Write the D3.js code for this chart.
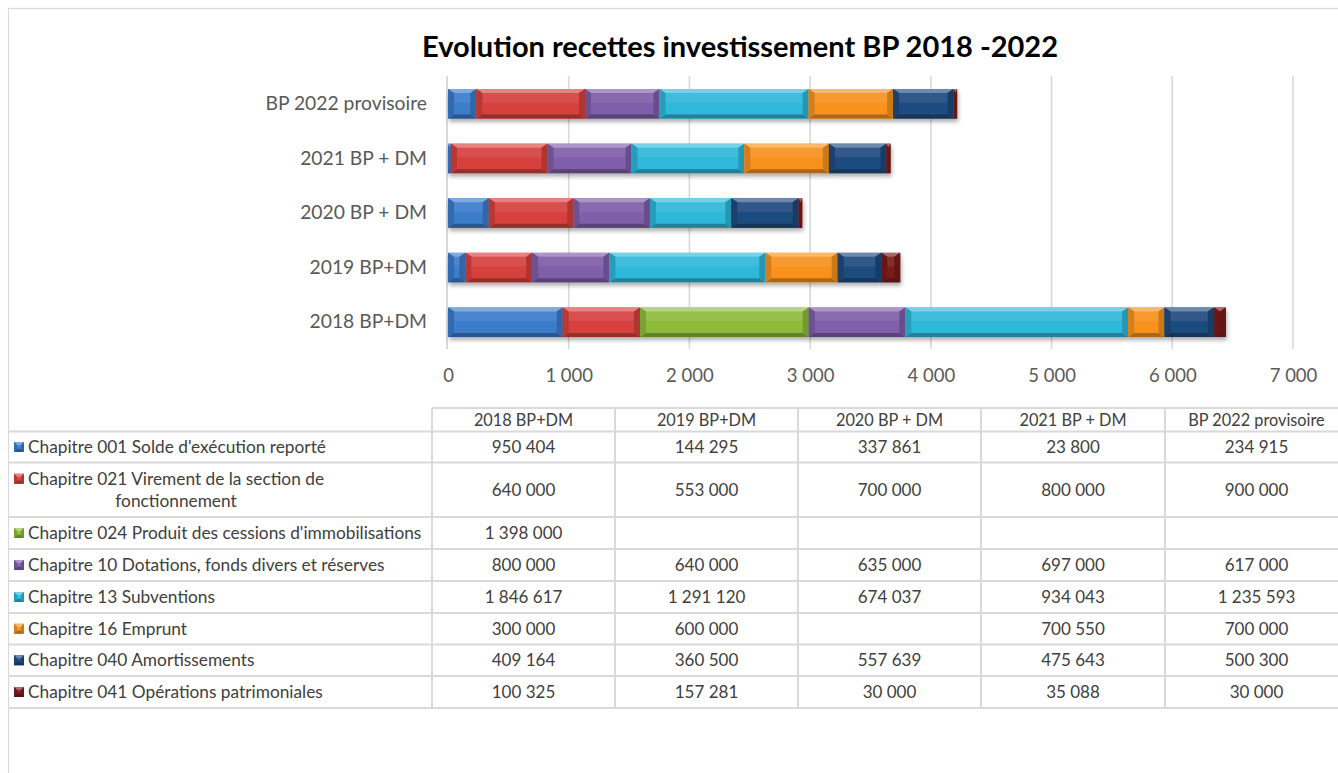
<!DOCTYPE html>
<html>
<head>
<meta charset="utf-8">
<script src="https://cdn.jsdelivr.net/npm/d3@7"></script>
<style>
  html, body { margin: 0; padding: 0; background: #fff; }
  svg { display: block; font-family: Lato, "Open Sans", sans-serif; }
</style>
</head>
<body>
<svg id="chart" width="1338" height="773"></svg>
<script>
// Budget categories (one bar each, bottom to top)
const categories = ["2018 BP+DM", "2019 BP+DM", "2020 BP + DM", "2021 BP + DM", "BP 2022 provisoire"];

// Revenue chapters, in stacking order
const chapters = [
  "Chapitre 001 Solde d'exécution reporté",
  "Chapitre 021 Virement de la section de\nfonctionnement",
  "Chapitre 024 Produit des cessions d'immobilisations",
  "Chapitre 10 Dotations, fonds divers et réserves",
  "Chapitre 13 Subventions",
  "Chapitre 16 Emprunt",
  "Chapitre 040 Amortissements",
  "Chapitre 041 Opérations patrimoniales"
];

// Amounts in euros, per chapter, per category (null = no amount)
const ch001 = [950404, 144295, 337861, 23800, 234915];
const ch021 = [640000, 553000, 700000, 800000, 900000];
const ch024 = [1398000, null, null, null, null];
const ch10  = [800000, 640000, 635000, 697000, 617000];
const ch13  = [1846617, 1291120, 674037, 934043, 1235593];
const ch16  = [300000, 600000, null, 700550, 700000];
const ch040 = [409164, 360500, 557639, 475643, 500300];
const ch041 = [100325, 157281, 30000, 35088, 30000];
const seriesValues = [ch001, ch021, ch024, ch10, ch13, ch16, ch040, ch041];

// Axis ticks, in thousands of euros
const axisTicks = [0, 1000, 2000, 3000, 4000, 5000, 6000, 7000];

const colors = ["#3b7ccb", "#d6403e", "#8fbb3c", "#7f5ea9", "#2fb8da", "#f8921f", "#1f4b7f", "#7a1d1d"];

const title = "Evolution recettes investissement BP 2018 -2022";

const fr = d3.formatLocale({ decimal: ",", thousands: " ", grouping: [3], currency: ["", " €"] });
const fmt = fr.format(",.0f");

const svg = d3.select("#chart");
const defs = svg.append("defs");

defs.append("filter").attr("id", "barShadow")
  .attr("x", "-5%").attr("y", "-30%").attr("width", "110%").attr("height", "180%")
  .append("feDropShadow")
  .attr("dx", 1).attr("dy", 3).attr("stdDeviation", 2.2)
  .attr("flood-color", "#000").attr("flood-opacity", 0.33);

// Outer chart frame
svg.append("rect")
  .attr("x", 8.5).attr("y", 8.5).attr("width", 1340).attr("height", 780)
  .attr("fill", "#fff").attr("stroke", "#d9d9d9").attr("stroke-width", 1.2);

// Title
svg.append("text")
  .attr("x", 740).attr("y", 57)
  .attr("text-anchor", "middle")
  .attr("font-size", 29).attr("font-weight", 700)
  .attr("fill", "#000")
  .text(title);

// Scales
const x = d3.scaleLinear().domain([0, 7000000]).range([448, 1293]);
const y = d3.scaleBand().domain(categories.slice().reverse())
  .range([76.5, 349.5]).paddingInner(0.46).paddingOuter(0.23);

// Gridlines
const grid = svg.append("g");
grid.selectAll("line").data(axisTicks.slice(1)).join("line")
  .attr("x1", d => x(d * 1000)).attr("x2", d => x(d * 1000))
  .attr("y1", 76).attr("y2", 349)
  .attr("stroke", "#d9d9d9").attr("stroke-width", 1.6);

// Category axis line
svg.append("line")
  .attr("x1", x(0) - 1).attr("x2", x(0) - 1).attr("y1", 76).attr("y2", 349)
  .attr("stroke", "#d0d0d0").attr("stroke-width", 1.6);

// Value axis labels
const xAxis = d3.axisBottom(x)
  .tickValues(axisTicks.map(d => d * 1000))
  .tickFormat(d => fmt(d / 1000))
  .tickSize(0).tickPadding(0);
const xg = svg.append("g").attr("transform", "translate(0,369)").call(xAxis);
xg.select(".domain").remove();
xg.selectAll("text").attr("font-size", 18.5).attr("fill", "#595959")
  .attr("font-family", "Lato, 'Open Sans', sans-serif").attr("dy", "0.71em");

// Category labels
const yAxis = d3.axisLeft(y).tickSize(0).tickPadding(0);
const yg = svg.append("g").attr("transform", "translate(427,0)").call(yAxis);
yg.select(".domain").remove();
yg.selectAll("text").attr("font-size", 19.3).attr("fill", "#595959")
  .attr("font-family", "Lato, 'Open Sans', sans-serif");

// Colour helpers for the bevel faces
const mix = (c, target, t) => d3.interpolateRgb(c, target)(t);

function bevel(g, x0, x1, y0, y1, color, dx, dy) {
  const w = x1 - x0, h = y1 - y0;
  const bx = Math.min(dx, w / 2), by = Math.min(dy, h / 2);
  const pts = a => a.map(p => p.join(",")).join(" ");
  g.append("rect").attr("x", x0).attr("y", y0).attr("width", w).attr("height", h)
    .attr("fill", color);
  // top face
  g.append("polygon").attr("points", pts([[x0, y0], [x1, y0], [x1 - bx, y0 + by], [x0 + bx, y0 + by]]))
    .attr("fill", mix(color, "#fff", 0.35));
  // bottom face
  g.append("polygon").attr("points", pts([[x0, y1], [x1, y1], [x1 - bx, y1 - by], [x0 + bx, y1 - by]]))
    .attr("fill", mix(color, "#000", 0.3));
  // left face
  g.append("polygon").attr("points", pts([[x0, y0], [x0 + bx, y0 + by], [x0 + bx, y1 - by], [x0, y1]]))
    .attr("fill", mix(color, "#000", 0.14));
  // right face
  g.append("polygon").attr("points", pts([[x1, y0], [x1 - bx, y0 + by], [x1 - bx, y1 - by], [x1, y1]]))
    .attr("fill", mix(color, "#000", 0.18));
  // soft highlight on the flat face
  if (w > 2 * bx && h > 2 * by) {
    g.append("rect").attr("x", x0 + bx).attr("y", y0 + by)
      .attr("width", w - 2 * bx).attr("height", (h - 2 * by) * 0.45)
      .attr("fill", "#fff").attr("opacity", 0.08);
  }
}

// Stacked series
const rows = categories.map((c, i) => {
  const r = { category: c };
  chapters.forEach((ch, j) => { r[j] = seriesValues[j][i] || 0; });
  return r;
});
const stack = d3.stack().keys(chapters.map((_, j) => j))(rows);

const bars = svg.append("g");
categories.forEach((c, i) => {
  const bg = bars.append("g").attr("filter", "url(#barShadow)");
  stack.forEach((layer, j) => {
    const seg = layer[i];
    if (seg[1] - seg[0] <= 0) return;
    bevel(bg, x(seg[0]), x(seg[1]), y(c), y(c) + y.bandwidth(), colors[j], 6, 4);
  });
});

// Data table
const colX = [8, 432, 615, 798, 981, 1165, 1348];
const rowY = [408, 431.5, 462.5, 517, 549, 581, 613, 644.5, 676, 708];
const lineColor = "#d9d9d9";
const textColor = "#404040";
const table = svg.append("g");

// horizontal rules
rowY.forEach((yy, k) => {
  table.append("line")
    .attr("x1", k === 0 ? colX[1] : colX[0]).attr("x2", 1338)
    .attr("y1", yy).attr("y2", yy)
    .attr("stroke", lineColor).attr("stroke-width", 2);
});
// vertical rules
colX.slice(1, 6).forEach(xx => {
  table.append("line")
    .attr("x1", xx).attr("x2", xx).attr("y1", rowY[0]).attr("y2", rowY[rowY.length - 1])
    .attr("stroke", lineColor).attr("stroke-width", 2);
});

// header
categories.forEach((c, i) => {
  table.append("text")
    .attr("x", (colX[i + 1] + colX[i + 2]) / 2).attr("y", (rowY[0] + rowY[1]) / 2 + 5.8)
    .attr("text-anchor", "middle").attr("font-size", 16.3).attr("fill", textColor)
    .text(c);
});

// body rows
chapters.forEach((ch, j) => {
  const top = rowY[j + 1], bot = rowY[j + 2], mid = (top + bot) / 2;
  const lines = ch.split("\n");
  const firstY = mid - (lines.length - 1) * 11;
  // legend key
  const kg = table.append("g");
  bevel(kg, 14, 24, firstY - 5, firstY + 5, colors[j], 3, 3);
  const t1 = table.append("text")
    .attr("x", 28).attr("y", firstY + 6)
    .attr("font-size", 17.3).attr("fill", textColor)
    .text(lines[0]);
  if (lines.length > 1) {
    const bb = t1.node().getBBox();
    table.append("text")
      .attr("x", bb.x + bb.width / 2).attr("y", firstY + 22 + 6)
      .attr("text-anchor", "middle")
      .attr("font-size", 17.3).attr("fill", textColor)
      .text(lines[1]);
  }
  seriesValues[j].forEach((v, i) => {
    if (v == null) return;
    table.append("text")
      .attr("x", (colX[i + 1] + colX[i + 2]) / 2).attr("y", mid + 6)
      .attr("text-anchor", "middle").attr("font-size", 17).attr("fill", textColor)
      .text(fmt(v));
  });
});
</script>
</body>
</html>
